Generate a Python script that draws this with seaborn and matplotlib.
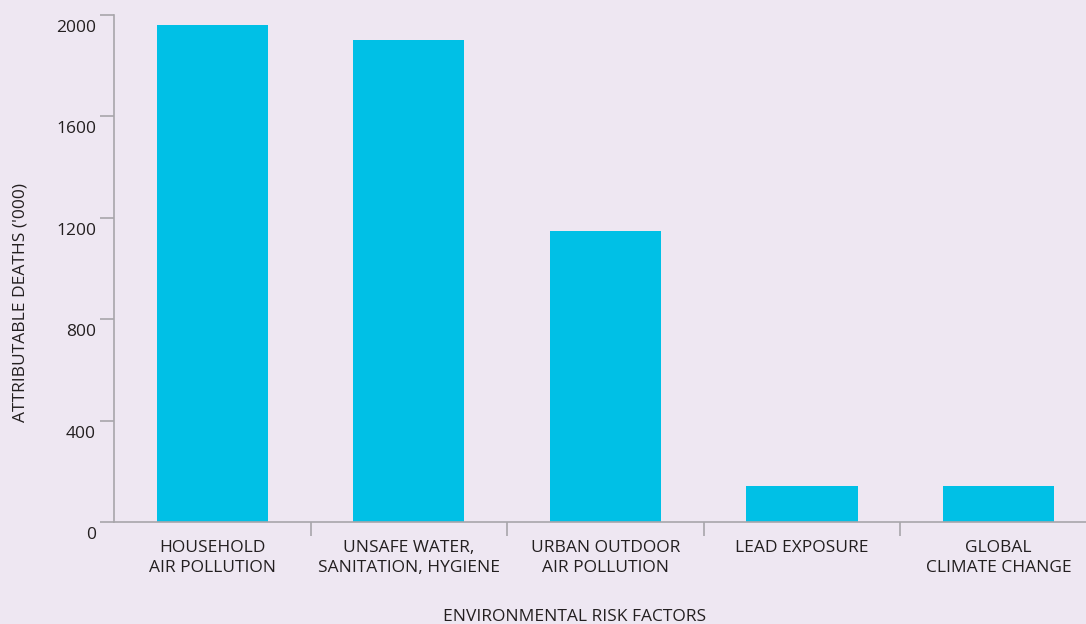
import seaborn as sns
import pandas as pd
import numpy as np
import matplotlib.pyplot as plt
import matplotlib.transforms as mtransforms

# Chart data
categories = ['HOUSEHOLD\nAIR POLLUTION', 'UNSAFE WATER,\nSANITATION, HYGIENE',
              'URBAN OUTDOOR\nAIR POLLUTION', 'LEAD EXPOSURE', 'GLOBAL\nCLIMATE CHANGE']
deaths = [1962, 1902, 1147, 143, 140]
y_ticks = [0, 400, 800, 1200, 1600, 2000]

bg = '#EEE7F2'
bar_color = '#00C0E6'
axis_color = '#A8A6AB'
text_color = '#231F20'

sns.set_style('white', {'axes.facecolor': bg, 'figure.facecolor': bg})
plt.rcParams['font.family'] = ['Open Sans', 'DejaVu Sans']

data = pd.DataFrame({'factor': categories, 'deaths': deaths})

fig = plt.figure(figsize=(10.86, 6.24), dpi=100)
ax = fig.add_axes([0.105, 0.1635, 0.905, 0.8125])
sns.barplot(data=data, x='factor', y='deaths', color=bar_color, width=0.565,
            saturation=1, linewidth=0, ax=ax)

ax.set_xlim(-0.5, len(categories) - 0.5)
ax.set_ylim(0, 2000)
ax.set_yticks(y_ticks)
ax.set_yticklabels([str(t) for t in y_ticks], fontsize=12.5, color=text_color)

# boundary ticks between categories
ax.set_xticks(np.arange(len(categories)) + 0.5, minor=True)
ax.tick_params(axis='x', which='major', bottom=False, length=0, pad=13,
               labelsize=12.5, labelcolor=text_color)
ax.tick_params(axis='x', which='minor', bottom=True, length=10, width=1.2,
               color=axis_color, direction='out')
ax.tick_params(axis='y', which='major', left=True, length=10, width=1.2,
               color=axis_color, pad=3, direction='out')
for lab in ax.get_xticklabels():
    lab.set_linespacing(1.32)

# shift y tick labels below their ticks
offset = mtransforms.ScaledTranslation(0, -0.11, fig.dpi_scale_trans)
for lab in ax.get_yticklabels():
    lab.set_transform(lab.get_transform() + offset)

for side in ['top', 'right']:
    ax.spines[side].set_visible(False)
for side in ['left', 'bottom']:
    ax.spines[side].set_color(axis_color)
    ax.spines[side].set_linewidth(1.2)

ax.set_xlabel('')
ax.set_ylabel('')
fig.text(0.019, 0.516, "ATTRIBUTABLE DEATHS ('000)", rotation=90, ha='center',
         va='center', fontsize=12.5, color=text_color)
fig.text(0.529, 0.012, 'ENVIRONMENTAL RISK FACTORS', ha='center', va='center',
         fontsize=12.5, color=text_color)

fig.savefig('out.png', dpi=100, facecolor=bg)
